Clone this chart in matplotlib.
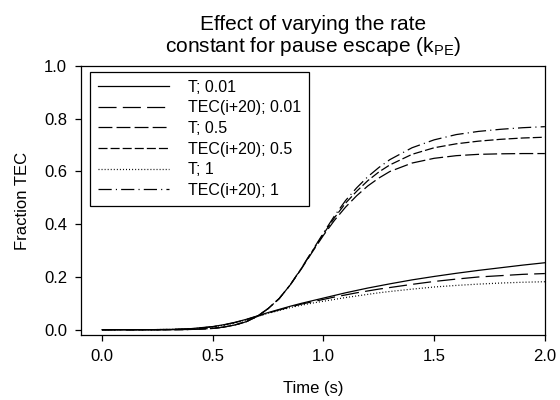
import matplotlib

matplotlib.use("Agg")
import matplotlib.pyplot as plt

plt.rcParams["font.family"] = ["Liberation Sans", "DejaVu Sans"]
plt.rcParams["mathtext.fontset"] = "custom"
plt.rcParams["mathtext.rm"] = "Liberation Sans"
plt.rcParams["lines.scale_dashes"] = False

time_s = [0.0, 0.1, 0.2, 0.3, 0.4, 0.5, 0.55, 0.6, 0.65, 0.7, 0.75, 0.8, 0.85,
          0.9, 0.95, 1.0, 1.05, 1.1, 1.15, 1.2, 1.25, 1.3, 1.4, 1.5, 1.6,
          1.7, 1.8, 1.9, 2.0]

t_001 = [0, 0, 0, 0.001, 0.004, 0.012, 0.019, 0.028, 0.039, 0.052, 0.065,
         0.077, 0.089, 0.100, 0.110, 0.120, 0.130, 0.140, 0.149, 0.158, 0.166,
         0.174, 0.189, 0.202, 0.214, 0.225, 0.235, 0.245, 0.254]
tec_001 = [0, 0, 0, 0.001, 0.003, 0.011, 0.018, 0.027, 0.038, 0.051, 0.063,
           0.075, 0.086, 0.097, 0.106, 0.115, 0.124, 0.132, 0.140, 0.147,
           0.154, 0.160, 0.172, 0.183, 0.192, 0.200, 0.205, 0.210, 0.213]
t_05 = [0, 0, 0, 0, 0.001, 0.005, 0.010, 0.018, 0.030, 0.050, 0.080, 0.118,
        0.170, 0.230, 0.295, 0.358, 0.415, 0.465, 0.508, 0.545, 0.575, 0.600,
        0.632, 0.650, 0.660, 0.665, 0.667, 0.668, 0.668]
tec_05 = [0, 0, 0, 0, 0.001, 0.005, 0.010, 0.018, 0.030, 0.050, 0.080, 0.118,
          0.170, 0.232, 0.298, 0.363, 0.425, 0.480, 0.525, 0.565, 0.598,
          0.625, 0.665, 0.690, 0.705, 0.715, 0.722, 0.727, 0.730]
t_1 = [0, 0, 0, 0.001, 0.003, 0.011, 0.017, 0.026, 0.037, 0.050, 0.062,
       0.073, 0.084, 0.093, 0.101, 0.108, 0.115, 0.122, 0.128, 0.134, 0.140,
       0.145, 0.154, 0.162, 0.168, 0.173, 0.177, 0.180, 0.182]
tec_1 = [0, 0, 0, 0, 0.001, 0.005, 0.010, 0.018, 0.030, 0.050, 0.080, 0.118,
         0.170, 0.233, 0.300, 0.367, 0.432, 0.490, 0.538, 0.580, 0.615, 0.645,
         0.690, 0.720, 0.740, 0.752, 0.760, 0.766, 0.770]

series = [
    ("T; 0.01", t_001, "-"),
    ("TEC(i+20); 0.01", tec_001, (0, (13, 4.5))),
    ("T; 0.5", t_05, (0, (10, 3))),
    ("TEC(i+20); 0.5", tec_05, (0, (6.5, 2.2))),
    ("T; 1", t_1, (0, (0.7, 1.5))),
    ("TEC(i+20); 1", tec_1, (0, (9.5, 3, 0.8, 3))),
]

fig = plt.figure(figsize=(5.6, 4.0), dpi=100)
ax = fig.add_axes([0.1446, 0.1625, 0.8284, 0.6725])

for label, values, style in series:
    ax.plot(time_s, values, color="black", lw=0.9, linestyle=style, label=label)

ax.set_xlim(-0.095, 2.0)
ax.set_ylim(-0.02, 1.0)
ax.set_xticks([0.0, 0.5, 1.0, 1.5, 2.0])
ax.set_yticks([0.0, 0.2, 0.4, 0.6, 0.8, 1.0])
ax.set_xticklabels(["0.0", "0.5", "1.0", "1.5", "2.0"])
ax.set_yticklabels(["0.0", "0.2", "0.4", "0.6", "0.8", "1.0"])
ax.tick_params(direction="out", length=4, width=0.9, labelsize=12, pad=6)
for spine in ax.spines.values():
    spine.set_linewidth(0.9)

ax.set_xlabel("Time (s)", fontsize=12, labelpad=12)
ax.set_ylabel("Fraction TEC", fontsize=12, labelpad=10)
ax.set_title("Effect of varying the rate\nconstant for pause escape (k$_{\\mathrm{PE}}$)",
             fontsize=15, pad=10, linespacing=1.05)

leg = ax.legend(loc="upper left", bbox_to_anchor=(0.019, 0.978), borderaxespad=0,
                fontsize=11.5, handlelength=4.45, handletextpad=1.2, labelspacing=0.35,
                borderpad=0.5, fancybox=False, framealpha=1)
leg.get_frame().set_edgecolor("black")
leg.get_frame().set_linewidth(0.9)

fig.savefig("out.png", dpi=100)
